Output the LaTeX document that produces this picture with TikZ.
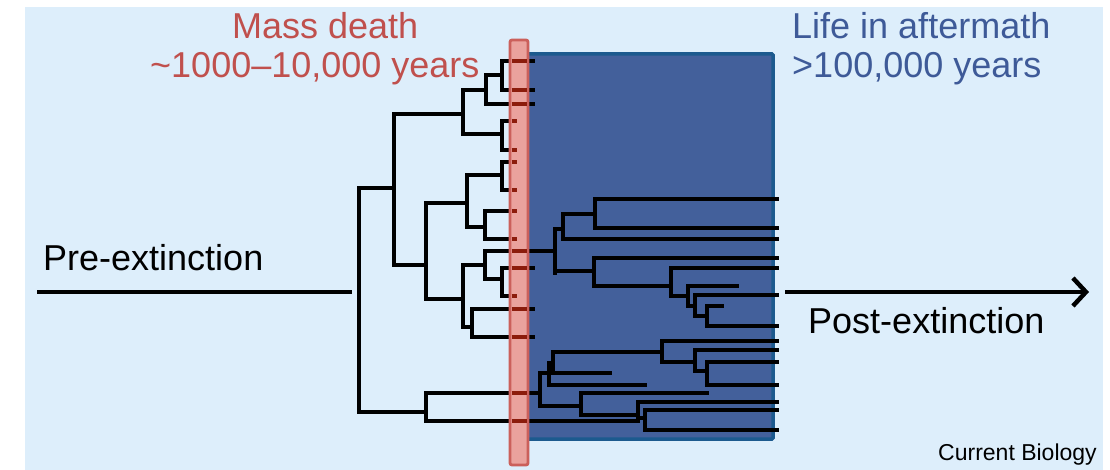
\documentclass[tikz,border=0pt]{standalone}
\usepackage{fontspec}
\setmainfont{Liberation Sans}
\usetikzlibrary{arrows.meta}
\definecolor{skybg}{HTML}{DDEEFB}
\definecolor{deathred}{HTML}{C0504D}
\definecolor{aftertext}{HTML}{3E5A98}
\definecolor{afterfill}{HTML}{43609B}
\definecolor{afteredge}{HTML}{1C5A8E}
\definecolor{barfill}{HTML}{EAA29D}
\definecolor{baredge}{HTML}{CB605B}
\definecolor{barline}{HTML}{8C1C0C}
\tikzset{
  branch/.style={line width=3.6pt, line cap=rect, black},
  inbar/.style={line width=3.6pt, barline},
  timeline/.style={line width=3.6pt, black},
  bigtext/.style={font=\fontsize{36}{40}\selectfont, inner sep=0pt, anchor=base west},
  smalltext/.style={font=\fontsize{23}{26}\selectfont, inner sep=0pt, anchor=base west},
}
\begin{document}
\begin{tikzpicture}[x=1pt, y=-1pt]
\useasboundingbox (0,0) rectangle (1110,470);
\fill[white] (0,0) rectangle (1110,470);
\fill[skybg] (25,7) rectangle (1103,470);

% aftermath window
\draw[fill=afterfill, draw=afteredge, line width=3.5pt, rounded corners=1pt] (526,54) rectangle (773,439);

% timelines before and after the event
\draw[timeline] (37,292) -- (352,292);
\draw[timeline, -{Straight Barb[length=13pt,width=28pt,line width=4.5pt]}] (785,292) -- (1089,292);

% phylogeny: vertical segments (x / y top / y bottom)
\foreach \x/\ya/\yb in {359/188/412, 394/114/265, 463/90/134, 486/75/104, 502/61/90,
  502/121/150, 426/203/299, 467/175/227, 502/162/190, 485/211/239, 463/265/327,
  485/251/279, 502/268/296, 472/309/337, 426/393/421,
  555/229/273, 563/214/239, 595/199/228, 594/258/286, 671/268/296, 688/286/306,
  695/295/316, 707/306/326,
  540/373/406, 549/363/385, 553/352/373, 662/341/362, 695/350/371, 707/362/385,
  581/393/415, 638/402/421, 645/410/430}
  \draw[branch] (\x,\ya) -- (\x,\yb);

% phylogeny: horizontal segments (y / x start / x end)
\foreach \y/\xa/\xb in {188/359/394, 114/394/463, 90/463/486, 75/486/502, 61/502/533,
  90/502/533, 104/486/533, 134/463/502, 121/502/517, 150/502/517, 265/394/426,
  203/426/467, 175/467/502, 162/502/517, 190/502/517, 227/467/485, 211/485/517,
  239/485/517, 299/426/463, 265/463/485, 251/485/555, 279/485/502, 268/502/533,
  296/502/517, 327/463/472, 309/472/533, 337/472/533, 412/359/426, 393/426/540,
  421/426/638,
  229/555/563, 214/563/595, 199/595/777, 228/595/777, 239/563/777, 271/555/594,
  258/594/777, 286/594/671, 268/671/777, 296/671/688, 286/688/737, 306/688/695,
  295/695/777, 316/695/707, 306/707/722, 326/707/777,
  373/540/549, 363/549/553, 352/553/662, 341/662/777, 362/662/695, 350/695/777,
  371/695/707, 362/707/777, 385/707/777, 373/553/610, 385/549/645, 406/540/581,
  393/581/707, 415/581/638, 418/638/645, 402/638/777, 410/645/777, 430/645/777}
  \draw[branch] (\xa,\y) -- (\xb,\y);

% mass-death band
\draw[fill=barfill, draw=baredge, line width=2.8pt, rounded corners=2pt] (510,40) rectangle (528,465);
% lineages seen through the band
\foreach \y in {61,90,104,251,268,309,337,393,421}
  \draw[inbar] (511.5,\y) -- (526.5,\y);
\foreach \y in {121,150,162,190,211,239,296}
  \draw[inbar] (511.5,\y) -- (517,\y);

% labels
\node[bigtext, text=deathred] (massdeath) at (232,39) {Mass death};
\node[bigtext, text=deathred] (deathspan) at (150,78) {\textasciitilde1000–10,000 years};
\node[bigtext, text=aftertext] (aftermath) at (792,39) {Life in aftermath};
\node[bigtext, text=aftertext] (afterspan) at (792,78) {>100,000 years};
\node[bigtext] (pre) at (43,270) {Pre-extinction};
\node[bigtext] (post) at (808,333) {Post-extinction};
\node[smalltext] (journal) at (938,460) {Current Biology};
\end{tikzpicture}
\end{document}
